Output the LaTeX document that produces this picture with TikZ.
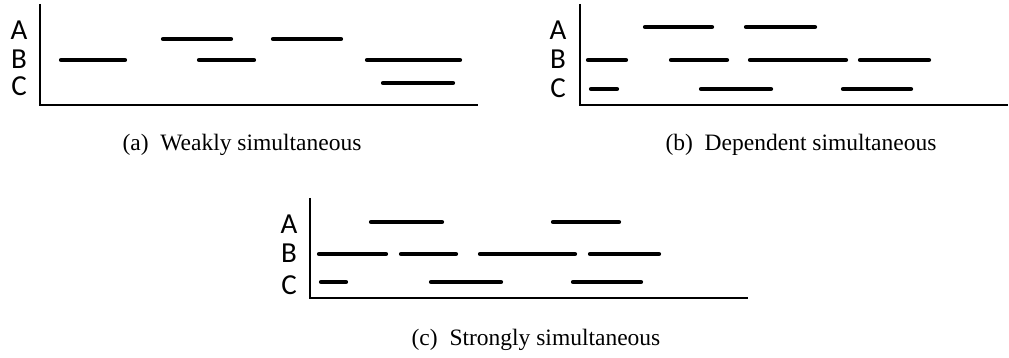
\documentclass[tikz,border=0pt]{standalone}
\usepackage{fontspec}
\setmainfont{Liberation Serif}
\newfontfamily\lblfont{Carlito}
\usepackage{tikz}
\usepackage{xcolor}

\begin{document}
\begin{tikzpicture}[x=1pt, y=-1pt,
bar/.style={line width=4.2pt, line cap=round},
axis/.style={line width=1.7pt},
lbl/.style={font=\lblfont\fontsize{29}{29}\selectfont, inner sep=0pt},
capt/.style={font=\fontsize{23.5}{23.5}\selectfont, inner sep=0pt}]

\useasboundingbox (0,0) rectangle (1009,358);

% (a) weakly simultaneous
\node[lbl] (aA) at (19,30) {A};
\node[lbl] (aB) at (19,59) {B};
\node[lbl] (aC) at (19,86) {C};
\draw[axis] (40,4) -- (40,105) -- (478,105);
\draw[bar] (163,39) -- (231,39);
\draw[bar] (273,39) -- (341,39);
\draw[bar] (61,60) -- (125,60);
\draw[bar] (199,60) -- (254,60);
\draw[bar] (367,60) -- (460,60);
\draw[bar] (383,83) -- (453,83);
\node[capt] (acap) at (242,145) {(a)\enspace Weakly simultaneous};

% (b) dependent simultaneous
\node[lbl] (bA) at (558,30) {A};
\node[lbl] (bB) at (558,59) {B};
\node[lbl] (bC) at (558,88) {C};
\draw[axis] (580,4) -- (580,105) -- (1008,105);
\draw[bar] (645,27) -- (712,27);
\draw[bar] (746,27) -- (815,27);
\draw[bar] (588,60) -- (626,60);
\draw[bar] (671,60) -- (727,60);
\draw[bar] (750,60) -- (846,60);
\draw[bar] (860,60) -- (929,60);
\draw[bar] (591,89) -- (617,89);
\draw[bar] (701,89) -- (771,89);
\draw[bar] (843,89) -- (911,89);
\node[capt] (bcap) at (801,145) {(b)\enspace Dependent simultaneous};

% (c) strongly simultaneous
\node[lbl] (cA) at (289,224) {A};
\node[lbl] (cB) at (289,253) {B};
\node[lbl] (cC) at (289,285) {C};
\draw[axis] (310,198) -- (310,298) -- (748,298);
\draw[bar] (371,222) -- (442,222);
\draw[bar] (553,222) -- (619,222);
\draw[bar] (319,254) -- (386,254);
\draw[bar] (401,254) -- (456,254);
\draw[bar] (480,254) -- (575,254);
\draw[bar] (590,254) -- (659,254);
\draw[bar] (321,282) -- (346,282);
\draw[bar] (431,282) -- (501,282);
\draw[bar] (573,282) -- (641,282);
\node[capt] (ccap) at (536,340) {(c)\enspace Strongly simultaneous};

\end{tikzpicture}
\end{document}
